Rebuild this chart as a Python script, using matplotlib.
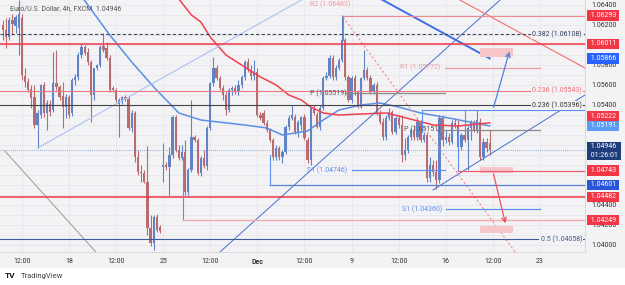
import numpy as np
import matplotlib.pyplot as plt
import matplotlib.transforms as mtransforms
from matplotlib.patches import Rectangle

plt.rcParams['font.family'] = ['Roboto', 'DejaVu Sans']

# EUR/USD 4h candles, oldest first
opens = [1.0620, 1.0615, 1.0608, 1.0625, 1.0619, 1.0617, 1.0627, 1.0569, 1.0563, 1.0556,
         1.0548, 1.0520, 1.0530, 1.0560, 1.0532, 1.0541, 1.0535, 1.0562, 1.0558, 1.0549,
         1.0538, 1.0548, 1.0532, 1.0565, 1.0568, 1.0590, 1.0598, 1.0593, 1.0583, 1.0550,
         1.0577, 1.0580, 1.0599, 1.0597, 1.0587, 1.0557, 1.0555, 1.0541, 1.0545, 1.0548,
         1.0546, 1.0517, 1.0532, 1.0488, 1.0473, 1.0472, 1.0463, 1.0417, 1.0402, 1.0428,
         1.0418, 1.0478, 1.0480, 1.0478, 1.0490, 1.0528, 1.0495, 1.0487, 1.0493, 1.0453,
         1.0475, 1.0508, 1.0505, 1.0472, 1.0487, 1.0479, 1.0517, 1.0562, 1.0577, 1.0567,
         1.0557, 1.0550, 1.0535, 1.0555, 1.0557, 1.0553, 1.0560, 1.0568, 1.0583, 1.0575,
         1.0569, 1.0573, 1.0530, 1.0532, 1.0522, 1.0515, 1.0505, 1.0488, 1.0497, 1.0488,
         1.0493, 1.0518, 1.0527, 1.0528, 1.0513, 1.0520, 1.0528, 1.0505, 1.0485, 1.0537,
         1.0530, 1.0518, 1.0537, 1.0567, 1.0569, 1.0587, 1.0568, 1.0577, 1.0585, 1.0605,
         1.0568, 1.0545, 1.0567, 1.0553, 1.0538, 1.0567, 1.0575, 1.0567, 1.0553, 1.0560,
         1.0532, 1.0523, 1.0508, 1.0527, 1.0533, 1.0513, 1.0527, 1.0520, 1.0490, 1.0495,
         1.0508, 1.0515, 1.0508, 1.0523, 1.0505, 1.0510, 1.0467, 1.0480, 1.0473, 1.0465,
         1.0527, 1.0505, 1.0508, 1.0503, 1.0522, 1.0520, 1.0498, 1.0510, 1.0505, 1.0517,
         1.0522, 1.0515, 1.0523, 1.0488, 1.0503, 1.0502]
highs = [1.0625, 1.0627, 1.0628, 1.0631, 1.0630, 1.0645, 1.0631, 1.0577, 1.0567, 1.0560,
         1.0560, 1.0535, 1.0561, 1.0563, 1.0545, 1.0545, 1.0593, 1.0595, 1.0560, 1.0563,
         1.0551, 1.0550, 1.0567, 1.0571, 1.0593, 1.0601, 1.0600, 1.0597, 1.0585, 1.0552,
         1.0581, 1.0600, 1.0612, 1.0603, 1.0590, 1.0559, 1.0557, 1.0547, 1.0549, 1.0550,
         1.0549, 1.0535, 1.0534, 1.0495, 1.0480, 1.0475, 1.0499, 1.0430, 1.0430, 1.0431,
         1.0420, 1.0502, 1.0483, 1.0498, 1.0530, 1.0530, 1.0500, 1.0500, 1.0505, 1.0477,
         1.0545, 1.0510, 1.0507, 1.0489, 1.0495, 1.0519, 1.0563, 1.0588, 1.0580, 1.0569,
         1.0560, 1.0553, 1.0557, 1.0559, 1.0560, 1.0565, 1.0570, 1.0585, 1.0587, 1.0580,
         1.0585, 1.0577, 1.0533, 1.0535, 1.0525, 1.0517, 1.0507, 1.0500, 1.0499, 1.0495,
         1.0520, 1.0530, 1.0540, 1.0531, 1.0525, 1.0529, 1.0531, 1.0508, 1.0538, 1.0540,
         1.0533, 1.0540, 1.0569, 1.0573, 1.0590, 1.0590, 1.0580, 1.0587, 1.0630, 1.0607,
         1.0570, 1.0569, 1.0570, 1.0555, 1.0568, 1.0595, 1.0578, 1.0570, 1.0562, 1.0563,
         1.0535, 1.0527, 1.0530, 1.0537, 1.0535, 1.0529, 1.0529, 1.0530, 1.0507, 1.0510,
         1.0517, 1.0520, 1.0527, 1.0525, 1.0513, 1.0512, 1.0488, 1.0485, 1.0485, 1.0530,
         1.0530, 1.0515, 1.0512, 1.0525, 1.0527, 1.0525, 1.0512, 1.0523, 1.0520, 1.0525,
         1.0525, 1.0535, 1.0527, 1.0507, 1.0507, 1.0515]
lows = [1.0605, 1.0597, 1.0605, 1.0610, 1.0612, 1.0590, 1.0565, 1.0558, 1.0553, 1.0537,
        1.0517, 1.0497, 1.0527, 1.0528, 1.0515, 1.0529, 1.0533, 1.0555, 1.0545, 1.0517,
        1.0527, 1.0527, 1.0529, 1.0560, 1.0565, 1.0587, 1.0590, 1.0580, 1.0523, 1.0545,
        1.0575, 1.0578, 1.0593, 1.0585, 1.0553, 1.0553, 1.0543, 1.0508, 1.0541, 1.0544,
        1.0515, 1.0513, 1.0483, 1.0470, 1.0463, 1.0462, 1.0410, 1.0399, 1.0395, 1.0413,
        1.0412, 1.0463, 1.0475, 1.0450, 1.0487, 1.0493, 1.0485, 1.0485, 1.0450, 1.0450,
        1.0473, 1.0503, 1.0470, 1.0469, 1.0477, 1.0475, 1.0515, 1.0559, 1.0565, 1.0555,
        1.0545, 1.0530, 1.0533, 1.0550, 1.0551, 1.0550, 1.0557, 1.0565, 1.0573, 1.0565,
        1.0565, 1.0528, 1.0525, 1.0520, 1.0513, 1.0503, 1.0485, 1.0485, 1.0485, 1.0482,
        1.0491, 1.0515, 1.0525, 1.0511, 1.0508, 1.0515, 1.0505, 1.0482, 1.0480, 1.0530,
        1.0517, 1.0515, 1.0535, 1.0565, 1.0567, 1.0565, 1.0565, 1.0575, 1.0583, 1.0565,
        1.0543, 1.0542, 1.0550, 1.0537, 1.0537, 1.0565, 1.0565, 1.0551, 1.0551, 1.0530,
        1.0521, 1.0505, 1.0505, 1.0525, 1.0511, 1.0511, 1.0517, 1.0483, 1.0485, 1.0492,
        1.0505, 1.0505, 1.0505, 1.0503, 1.0503, 1.0463, 1.0463, 1.0469, 1.0456, 1.0462,
        1.0499, 1.0502, 1.0500, 1.0501, 1.0517, 1.0495, 1.0495, 1.0503, 1.0475, 1.0505,
        1.0513, 1.0512, 1.0485, 1.0485, 1.0493, 1.0490]
closes = [1.0615, 1.0608, 1.0625, 1.0621, 1.0628, 1.0631, 1.0570, 1.0563, 1.0555, 1.0547,
          1.0520, 1.0532, 1.0560, 1.0532, 1.0542, 1.0533, 1.0562, 1.0558, 1.0548, 1.0538,
          1.0548, 1.0530, 1.0565, 1.0568, 1.0590, 1.0598, 1.0592, 1.0583, 1.0550, 1.0577,
          1.0580, 1.0598, 1.0595, 1.0587, 1.0555, 1.0555, 1.0545, 1.0545, 1.0548, 1.0546,
          1.0517, 1.0532, 1.0488, 1.0473, 1.0472, 1.0463, 1.0417, 1.0402, 1.0428, 1.0415,
          1.0414, 1.0480, 1.0478, 1.0490, 1.0528, 1.0495, 1.0487, 1.0493, 1.0453, 1.0475,
          1.0508, 1.0505, 1.0472, 1.0487, 1.0479, 1.0517, 1.0562, 1.0577, 1.0567, 1.0557,
          1.0550, 1.0535, 1.0555, 1.0557, 1.0553, 1.0560, 1.0568, 1.0583, 1.0575, 1.0569,
          1.0573, 1.0530, 1.0527, 1.0522, 1.0515, 1.0505, 1.0488, 1.0497, 1.0488, 1.0493,
          1.0518, 1.0527, 1.0530, 1.0513, 1.0523, 1.0528, 1.0507, 1.0485, 1.0537, 1.0532,
          1.0518, 1.0537, 1.0567, 1.0569, 1.0587, 1.0568, 1.0577, 1.0585, 1.0605, 1.0568,
          1.0545, 1.0567, 1.0553, 1.0538, 1.0567, 1.0575, 1.0567, 1.0553, 1.0560, 1.0532,
          1.0523, 1.0508, 1.0527, 1.0533, 1.0513, 1.0527, 1.0520, 1.0490, 1.0495, 1.0508,
          1.0515, 1.0508, 1.0523, 1.0505, 1.0510, 1.0467, 1.0480, 1.0473, 1.0465, 1.0527,
          1.0505, 1.0508, 1.0503, 1.0522, 1.0520, 1.0498, 1.0510, 1.0505, 1.0517, 1.0522,
          1.0515, 1.0525, 1.0488, 1.0503, 1.0497, 1.04946]

# moving averages (bar index, price)
ma_blue_idx = [24, 34, 41, 48, 52, 56, 63, 77, 84, 89, 97, 101, 107, 114, 120, 126, 133, 142, 155]
ma_blue = [1.0653, 1.0610, 1.0583, 1.0558, 1.0545, 1.0532, 1.0525, 1.0520, 1.0517, 1.0510,
           1.0514, 1.0523, 1.0535, 1.0540, 1.0542, 1.0538, 1.0532, 1.0527, 1.05191]
ma_red_idx = [55, 60, 63, 66, 71, 77, 82, 87, 91, 95, 98, 102, 107, 114, 122, 126, 137, 145, 155]
ma_red = [1.0650, 1.0630, 1.0623, 1.0608, 1.0590, 1.0578, 1.0568, 1.0560, 1.0550, 1.0545,
          1.0538, 1.0532, 1.0530, 1.0531, 1.0532, 1.0529, 1.0520, 1.0519, 1.05222]
ma_long_idx = [118, 155]
ma_long = [1.0650, 1.05866]

# time axis
tick_pos = [6, 21, 36, 51, 66, 81, 96, 111, 126, 141, 156, 171]
tick_lab = ['12:00', '18', '12:00', '25', '12:00', 'Dec', '12:00', '9', '12:00', '16', '12:00', '23']

# price axis (labels hidden behind the tags are left blank)
price_ticks = [1.040, 1.042, 1.044, 1.046, 1.048, 1.050, 1.052, 1.054, 1.056, 1.058, 1.060, 1.062, 1.064]
price_labels = ['1.04000', '1.04200', '1.04400', '', '', '', '', '1.05400', '1.05600', '1.05800',
                '', '1.06200', '1.06400']

BG = '#f3f3f5'
UP = '#6283c6'
DN = '#ba6b70'
RED = '#f23645'
PINK = '#f29aa2'
BLUE = '#5b8ff0'
NAVY = '#3d5a99'
XR = 185.35

fig = plt.figure(figsize=(6.25, 2.85), dpi=100, facecolor='white')
fig.patches.append(Rectangle((0, 17 / 285), 1, 1, transform=fig.transFigure,
                             fc=BG, ec='none', zorder=-10))
ax = fig.add_axes([0, 33 / 285, 585 / 625, 252 / 285])
ax.set_facecolor(BG)

o = np.array(opens)
h = np.array(highs)
l = np.array(lows)
c = np.array(closes)
x = np.arange(len(c))
col = np.where(c >= o, UP, DN)
ax.vlines(x, l, h, colors=col, lw=0.8, zorder=2)
ax.bar(x, np.maximum(np.abs(c - o), 0.00006), bottom=np.minimum(o, c), width=0.72,
       color=col, lw=0, zorder=2)

# moving averages
ax.plot(ma_blue_idx, ma_blue, color='#5c8ee6', lw=1.1, zorder=3)
ax.plot(ma_red_idx, ma_red, color='#f0404f', lw=1.1, zorder=3)
ax.plot(ma_long_idx, ma_long, color='#3f6ee8', lw=1.4, zorder=3)

# full width levels
ax.axhline(1.06011, color=RED, lw=1.1, zorder=4)
ax.axhline(1.04482, color=RED, lw=1.1, zorder=4)
ax.axhline(1.06108, color='#3c4a66', lw=0.8, ls=(0, (3, 2)), zorder=4)
ax.axhline(1.05543, color='#f07880', lw=0.8, zorder=4)
ax.axhline(1.05396, color='#444444', lw=0.8, zorder=4)
ax.axhline(1.04058, color=NAVY, lw=0.8, zorder=4)
ax.axhline(1.04946, color='#6d8fd0', lw=0.6, ls=(0, (1, 1.5)), zorder=4)

fibs = [(1.06108, '0.382 (1.06108)', '#2c3a5c'), (1.05543, '0.236 (1.05543)', '#f06a74'),
        (1.05396, '0.236 (1.05396)', '#333333'), (1.04058, '0.5 (1.04058)', NAVY)]
for p, t, cc in fibs:
    ax.text(184.4, p, t, ha='right', va='center', fontsize=5, color=cc, zorder=5,
            bbox=dict(boxstyle='square,pad=0.15', fc=BG, ec='none'))

# pivots
piv = [(97.8, 108.9, 140.8, 1.05519, 'P (1.05519)', '#555555', '#8a8a8a'),
       (127.7, 138.2, 171.0, 1.05151, 'P (1.05151)', '#555555', '#8a8a8a'),
       (126.4, 140.8, 171.0, 1.05772, 'R1 (1.05772)', PINK, PINK),
       (96.8, 111.1, 140.8, 1.04746, 'S1 (1.04746)', BLUE, BLUE),
       (127.0, 141.1, 171.0, 1.04360, 'S1 (1.04360)', BLUE, BLUE)]
for tx, x0, x1, p, t, tc, lc in piv:
    ax.text(tx, p, t, fontsize=5, color=tc, va='center', zorder=5)
    ax.plot([x0, x1], [p, p], color=lc, lw=0.9, zorder=4)
ax.text(97.8, 1.06448, 'R2 (1.06483)', fontsize=5, color=PINK, va='top', zorder=5)

# range lines from candles
ax.plot([57.3, 57.3], [1.0488, 1.04249], color=BLUE, lw=0.8, zorder=4)
ax.plot([57.3, XR], [1.04249, 1.04249], color='#f5aab0', lw=1.0, zorder=4)
ax.plot([85, 85], [1.0490, 1.04601], color=BLUE, lw=0.8, zorder=4)
ax.plot([85, XR], [1.04601, 1.04601], color='#5b7fd0', lw=0.9, zorder=4)
ax.plot([108.3, 108.3], [1.0605, 1.06293], color=BLUE, lw=0.8, zorder=4)
ax.plot([108.3, XR], [1.06293, 1.06293], color='#f08a90', lw=0.8, zorder=4)
ax.plot([145, 145], [1.0515, 1.04743], color=BLUE, lw=0.8, zorder=4)
ax.plot([145, XR], [1.04743, 1.04743], color='#f0606c', lw=0.9, zorder=4)
ax.plot([133.4, XR], [1.0535, 1.0535], color=BLUE, lw=0.8, zorder=4)
ax.plot([133.4, 133.4], [1.0535, 1.0513], color=BLUE, lw=0.8, zorder=4)
ax.plot([147.2, 147.2], [1.0535, 1.0517], color=BLUE, lw=0.8, zorder=4)

# trend lines
ax.plot([11, 95], [1.0497, 1.0645], color='#a8c2f0', lw=0.8, zorder=3)
ax.plot([0.6, 31], [1.0494, 1.0388], color='#9a9a9a', lw=0.7, zorder=3)
ax.plot([69.1, 158.3], [1.0393, 1.0645], color='#4a6fd0', lw=0.7, zorder=3)
ax.plot([136.9, XR], [1.0455, 1.0550], color='#4a6fd0', lw=0.7, zorder=3)
ax.plot([108.3, 163.1], [1.0628, 1.0393], color='#f08a90', lw=0.8, ls=(0, (2, 2)), zorder=3)
ax.plot([145.5, XR], [1.0645, 1.0577], color='#f07070', lw=0.8, zorder=3)

# target zones and arrows
for y0, hh in [(1.0588, 0.0009), (1.0472, 0.0006), (1.0412, 0.0007)]:
    ax.add_patch(Rectangle((151.9, y0), 10.5, hh, fc='#f6c6ca', ec='none', zorder=3))
ax.annotate('', xy=(161.5, 1.0596), xytext=(156, 1.0535),
            arrowprops=dict(arrowstyle='->', color='#4f7fe0', lw=0.9, mutation_scale=8), zorder=5)
ax.annotate('', xy=(160.2, 1.0419), xytext=(156, 1.0474),
            arrowprops=dict(arrowstyle='->', color='#f0505c', lw=0.9, mutation_scale=8), zorder=5)

ax.set_xlim(-0.955, XR)
ax.set_ylim(1.0393, 1.0645)

# axes styling
ax.yaxis.tick_right()
ax.set_yticks(price_ticks)
ax.set_yticks(np.arange(1.040, 1.0645, 0.001), minor=True)
ax.set_yticklabels(price_labels)
ax.set_xticks(tick_pos)
ax.set_xticklabels(tick_lab)
ax.get_xticklabels()[5].set_fontweight('bold')
ax.tick_params(axis='y', which='both', length=0, labelsize=5, colors='#333333', pad=4.5)
ax.tick_params(axis='x', length=0, labelsize=5, colors='#333333', pad=4.5)
ax.grid(which='both', axis='y', color='#e6e6ea', lw=0.5)
ax.grid(axis='x', color='#e6e6ea', lw=0.5)
ax.set_axisbelow(True)
for s in ['top', 'left']:
    ax.spines[s].set_visible(False)
for s in ['right', 'bottom']:
    ax.spines[s].set_color('#d4d4d8')
    ax.spines[s].set_linewidth(0.6)

# price tags on the right axis
tags = [(1.06293, '1.06293', RED), (1.06011, '1.06011', RED), (1.05866, '1.05866', '#2962ff'),
        (1.05285, '1.05222', RED), (1.05191, '1.05191', '#5b9cf6'),
        (1.0494, '1.04946\n01:26:01', '#1f3d7a'), (1.04743, '1.04743', RED),
        (1.04601, '1.04601', '#2a55d6'), (1.04482, '1.04482', RED), (1.04249, '1.04249', RED)]
tr = mtransforms.blended_transform_factory(ax.transAxes, ax.transData)
for p, t, fc in tags:
    ax.text(1.006, p, ' ' + t.replace('\n', ' \n ') + ' ', transform=tr, ha='left', va='center',
            fontsize=5, color='white', clip_on=False, zorder=20, linespacing=1.3,
            bbox=dict(boxstyle='square,pad=0.25', fc=fc, ec='none'))

ax.text(0.017, 0.964, 'Euro/U.S. Dollar, 4h, FXCM  1.04946', transform=ax.transAxes,
        fontsize=5, color='#555555', va='center', zorder=6)
fig.text(0.008, 0.032, 'TV', fontsize=6, weight='bold', color='#131722', va='center')
fig.text(0.034, 0.032, 'TradingView', fontsize=5.5, color='#444444', va='center')

fig.savefig('out.png', dpi=100, facecolor=fig.get_facecolor())
